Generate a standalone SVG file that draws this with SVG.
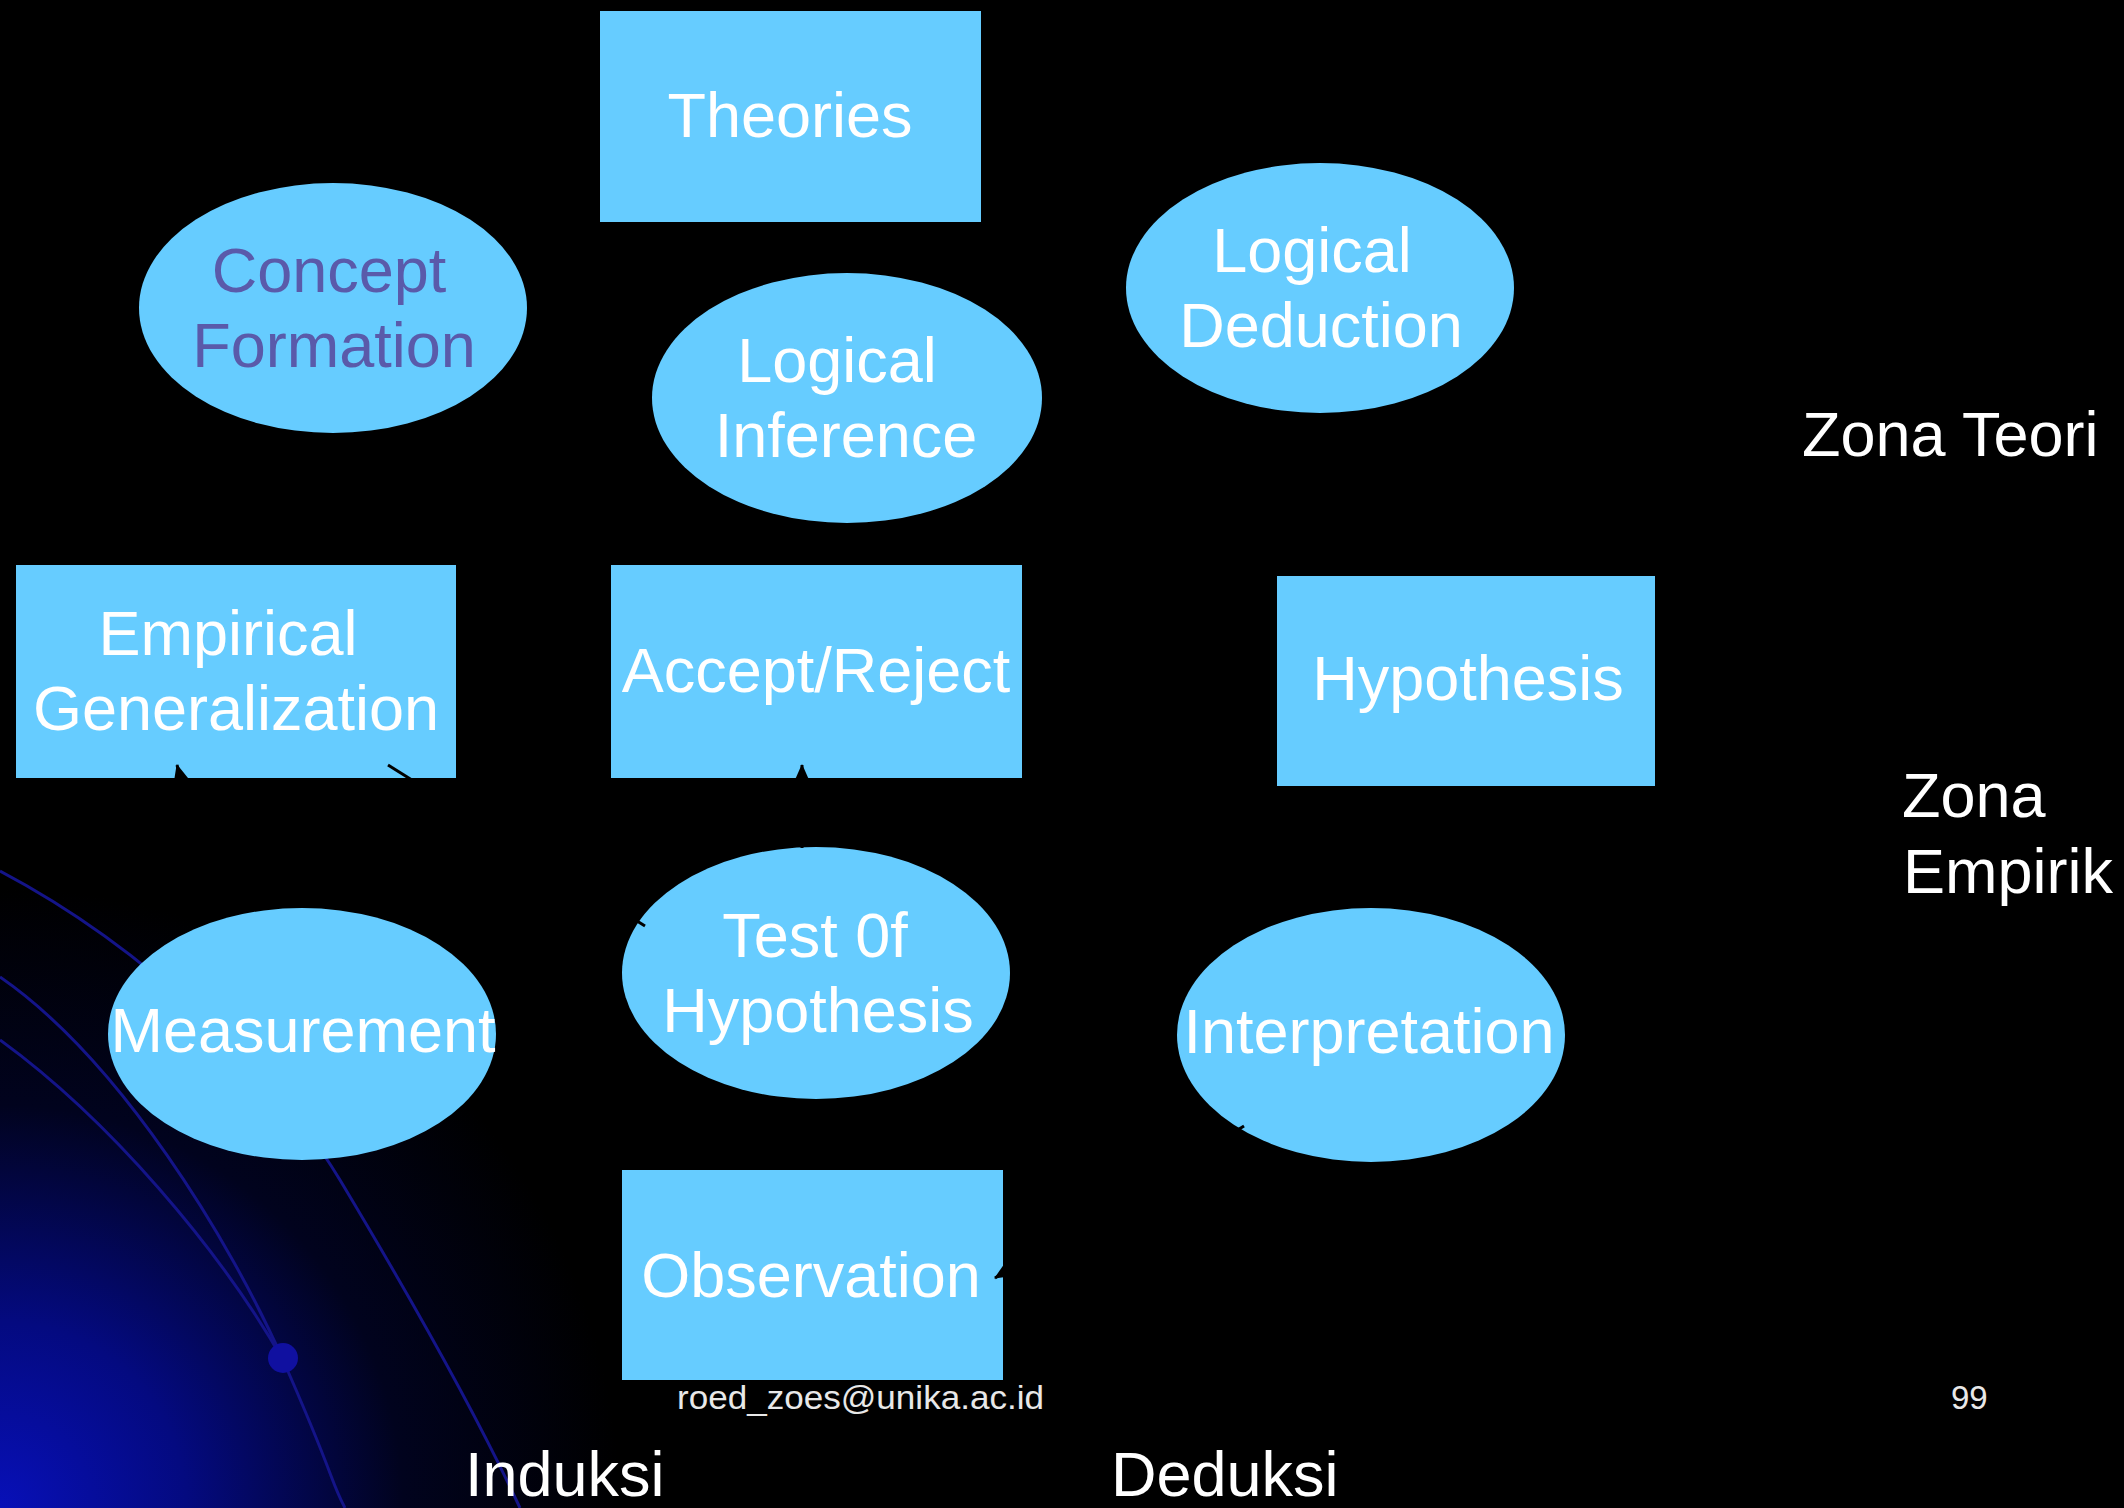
<svg xmlns="http://www.w3.org/2000/svg" width="2124" height="1508" viewBox="0 0 2124 1508">
  <defs>
    <radialGradient id="glow" cx="0" cy="1508" r="620" gradientUnits="userSpaceOnUse">
      <stop offset="0" stop-color="#0810b8"/>
      <stop offset="0.3" stop-color="#040a80"/>
      <stop offset="0.65" stop-color="#01031e"/>
      <stop offset="1" stop-color="#000000"/>
    </radialGradient>
    <marker id="arrow" markerUnits="userSpaceOnUse" markerWidth="18" markerHeight="16" refX="17" refY="8" orient="auto">
      <path d="M0,0 L18,8 L0,16 Z" fill="#000"/>
    </marker>
    <style>
      .shape { fill: #66CCFF; }
      .lbl { font-family: "Liberation Sans", Arial, sans-serif; font-size: 63px; fill: #FFFFFF; text-anchor: middle; }
      .concept { fill: #5A5AAA; }
      .side { font-family: "Liberation Sans", Arial, sans-serif; font-size: 63px; fill: #FFFFFF; }
      .foot { font-family: "Liberation Sans", Arial, sans-serif; font-size: 33px; fill: #E8E8E8; }
      .orbit { fill: none; stroke: #141488; stroke-width: 3; }
      .conn { fill: none; stroke: #000; stroke-width: 3; }
    </style>
  </defs>

  <g id="background">
    <rect x="0" y="0" width="2124" height="1508" fill="#000"/>
    <rect x="0" y="880" width="640" height="628" fill="url(#glow)"/>
    <path class="orbit" d="M0,871 C150,950 280,1080 340,1180 S470,1400 520,1508"/>
    <path class="orbit" d="M0,977 C120,1060 230,1240 283,1360 S330,1480 345,1508"/>
    <path class="orbit" d="M0,1040 C110,1120 220,1250 283,1360"/>
    <circle cx="283" cy="1358" r="15" fill="#1010a0"/>
  </g>

  <g id="theories">
    <rect class="shape" x="600" y="11" width="381" height="211"/>
    <text class="lbl" x="790" y="137">Theories</text>
  </g>

  <g id="concept-formation">
    <ellipse class="shape" cx="333" cy="308" rx="194" ry="125"/>
    <text class="lbl concept" x="329" y="292">Concept</text>
    <text class="lbl concept" x="334" y="367">Formation</text>
  </g>

  <g id="logical-inference">
    <ellipse class="shape" cx="847" cy="398" rx="195" ry="125"/>
    <text class="lbl" x="837" y="382">Logical</text>
    <text class="lbl" x="846" y="457">Inference</text>
  </g>

  <g id="logical-deduction">
    <ellipse class="shape" cx="1320" cy="288" rx="194" ry="125"/>
    <text class="lbl" x="1312" y="272">Logical</text>
    <text class="lbl" x="1321" y="347">Deduction</text>
  </g>

  <g id="empirical-generalization">
    <rect class="shape" x="16" y="565" width="440" height="213"/>
    <text class="lbl" x="228" y="655">Empirical</text>
    <text class="lbl" x="236" y="730">Generalization</text>
  </g>

  <g id="accept-reject">
    <rect class="shape" x="611" y="565" width="411" height="213"/>
    <text class="lbl" x="816" y="692">Accept/Reject</text>
  </g>

  <g id="hypothesis">
    <rect class="shape" x="1277" y="576" width="378" height="210"/>
    <text class="lbl" x="1468" y="700">Hypothesis</text>
  </g>

  <g id="measurement">
    <ellipse class="shape" cx="302" cy="1034" rx="194" ry="126"/>
    <text class="lbl" x="303" y="1052">Measurement</text>
  </g>

  <g id="test-of-hypothesis">
    <ellipse class="shape" cx="816" cy="973" rx="194" ry="126"/>
    <text class="lbl" x="815" y="957">Test 0f</text>
    <text class="lbl" x="818" y="1032">Hypothesis</text>
  </g>

  <g id="interpretation">
    <ellipse class="shape" cx="1371" cy="1035" rx="194" ry="127"/>
    <text class="lbl" x="1369" y="1053">Interpretation</text>
  </g>

  <g id="observation">
    <rect class="shape" x="622" y="1170" width="381" height="210"/>
    <text class="lbl" x="811" y="1297">Observation</text>
  </g>

  <g id="connectors">
    <line class="conn" x1="216" y1="912" x2="177" y2="765" marker-end="url(#arrow)"/>
    <line class="conn" x1="645" y1="926" x2="388" y2="765"/>
    <line class="conn" x1="802" y1="848" x2="802" y2="765" marker-end="url(#arrow)"/>
    <line class="conn" x1="1244" y1="1126" x2="995" y2="1278" marker-end="url(#arrow)"/>
  </g>

  <g id="labels">
    <text class="side" x="1802" y="456">Zona Teori</text>
    <text class="side" x="1902" y="817">Zona</text>
    <text class="side" x="1903" y="893">Empirik</text>
    <text class="side" x="465" y="1496">Induksi</text>
    <text class="side" x="1111" y="1496">Deduksi</text>
    <text class="foot" x="677" y="1409" textLength="367" lengthAdjust="spacingAndGlyphs">roed_zoes@unika.ac.id</text>
    <text class="foot" x="1951" y="1409">99</text>
  </g>
</svg>
